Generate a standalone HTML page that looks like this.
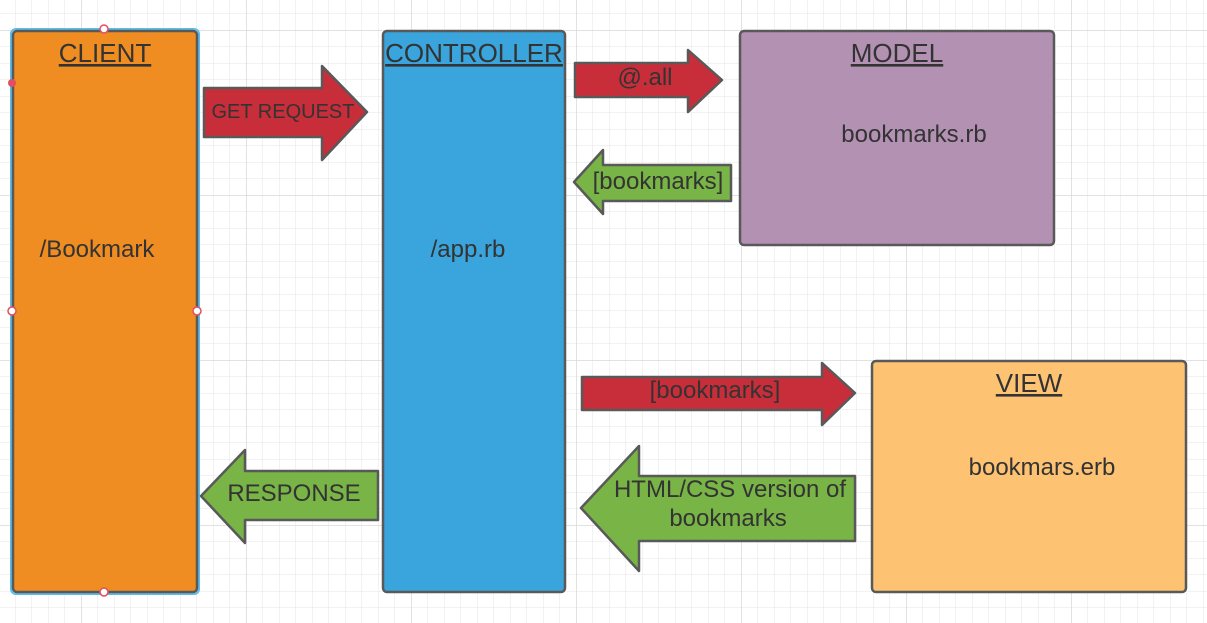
<!DOCTYPE html>
<html><head><meta charset="utf-8"><style>
html,body{margin:0;padding:0;background:#fff;}
svg{display:block;font-family:"Liberation Sans",sans-serif;}
</style></head><body>
<svg width="1207" height="623" viewBox="0 0 1207 623" xmlns="http://www.w3.org/2000/svg">
<defs>
<pattern id="minor" x="15" y="13.5" width="16.5" height="16.5" patternUnits="userSpaceOnUse">
<path d="M0 0H16.5M0 0V16.5" stroke="#e6e6e6" stroke-width="1" fill="none"/>
</pattern>
<pattern id="major" x="81" y="30" width="165" height="165" patternUnits="userSpaceOnUse">
<path d="M0 0H165M0 0V165" stroke="#d8d8d8" stroke-width="1.5" fill="none"/>
</pattern>
</defs>
<rect width="1207" height="623" fill="#fff"/>
<rect width="1207" height="623" fill="url(#minor)"/>
<rect width="1207" height="623" fill="url(#major)"/>

<g stroke="#595959" stroke-width="2.5" stroke-linejoin="round">
<rect x="11" y="29" width="188" height="565" rx="5" fill="none" stroke="#5bbde8" stroke-width="2"/>
<rect x="13" y="31" width="184" height="561" rx="4" fill="#EF8C22"/>
<rect x="383" y="31" width="182" height="561" rx="4" fill="#3AA4DC"/>
<rect x="740" y="31" width="314" height="214" rx="4" fill="#B291B3"/>
<rect x="872" y="361" width="314" height="231" rx="4" fill="#FDC272"/>

<path d="M204 88H322V66L367 112L322 160V137H204Z" fill="#C82D3A"/>
<path d="M575 63H688V50L722 80L688 112V97H575Z" fill="#C82D3A"/>
<path d="M731 165H603V150L574 182L603 214V201H731Z" fill="#79B446"/>
<path d="M582 377H822V363L855 393L822 425V410H582Z" fill="#C82D3A"/>
<path d="M378 471H245V450L201 496L245 543V520H378Z" fill="#79B446"/>
<path d="M855 476H639V446L581 508L639 571V541H855Z" fill="#79B446"/>
</g>

<circle cx="104" cy="29" r="4" fill="#fff" stroke="#e05060" stroke-width="1.5"/>
<circle cx="104" cy="592" r="4" fill="#fff" stroke="#e05060" stroke-width="1.5"/>
<circle cx="12" cy="311" r="4" fill="#fff" stroke="#e05060" stroke-width="1.5"/>
<circle cx="197" cy="311" r="4" fill="#fff" stroke="#e05060" stroke-width="1.5"/>
<circle cx="12" cy="83" r="4" fill="#e05060"/>

<g fill="#333" font-size="26" text-anchor="middle" text-decoration="underline">
<text x="105" y="62">CLIENT</text>
<text x="474" y="62">CONTROLLER</text>
<text x="897" y="62">MODEL</text>
<text x="1029" y="392">VIEW</text>
</g>
<g fill="#333" font-size="24" text-anchor="middle">
<text x="97" y="257">/Bookmark</text>
<text x="468" y="257">/app.rb</text>
<text x="914" y="142">bookmarks.rb</text>
<text x="1042" y="475">bookmars.erb</text>
<text x="645" y="85">@.all</text>
<text x="658" y="189">[bookmarks]</text>
<text x="715" y="398">[bookmarks]</text>
<text x="294" y="501">RESPONSE</text>
<text x="730" y="497">HTML/CSS version of</text>
<text x="728" y="526">bookmarks</text>
<text x="283" y="118" font-size="20">GET REQUEST</text>
</g>
</svg>
</body></html>
